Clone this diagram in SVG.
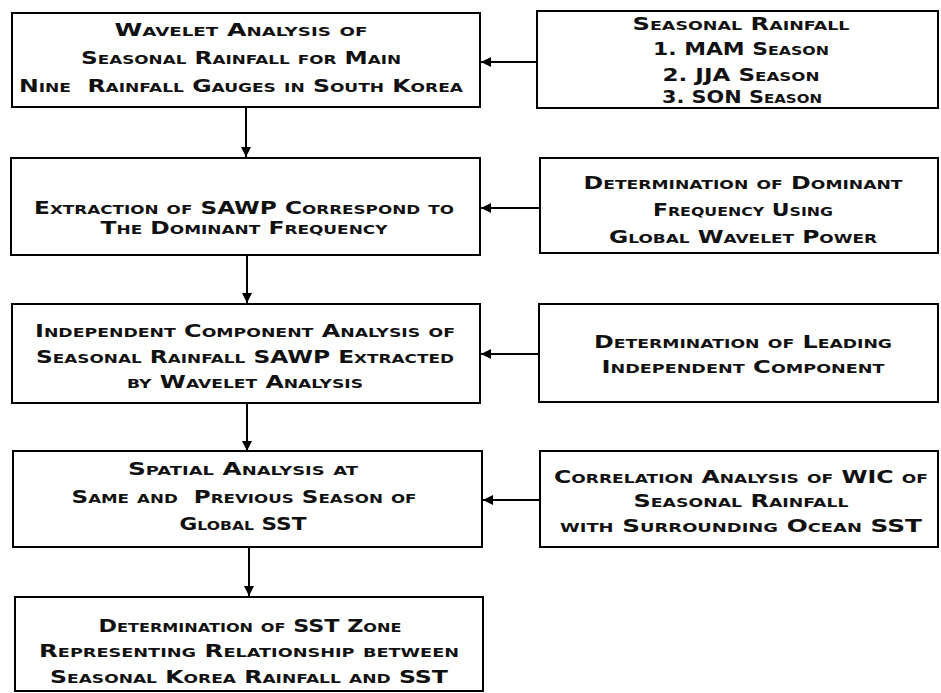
<svg xmlns="http://www.w3.org/2000/svg" width="941" height="693" viewBox="0 0 941 693">
<style>
.box{fill:#fff;stroke:#000;stroke-width:2}
.t{font-family:"DejaVu Sans","Liberation Sans",sans-serif;font-weight:bold;font-size:18px;font-variant:small-caps;text-anchor:middle;fill:#111;white-space:pre}
.c{stroke:#000;stroke-width:2;fill:none}
</style>
<defs>
<marker id="ah" viewBox="0 0 10 10" refX="10" refY="5" markerWidth="5" markerHeight="5" orient="auto" markerUnits="strokeWidth">
<path d="M0,0 L10,5 L0,10 z" fill="#000"/>
</marker>
</defs>
<rect width="941" height="693" fill="#fff"/>
<g id="connectors">
<line class="c" x1="246" y1="107" x2="246" y2="157" marker-end="url(#ah)"/>
<line class="c" x1="247" y1="255" x2="247" y2="303" marker-end="url(#ah)"/>
<line class="c" x1="247" y1="403" x2="247" y2="451" marker-end="url(#ah)"/>
<line class="c" x1="249" y1="547" x2="249" y2="596" marker-end="url(#ah)"/>
<line class="c" x1="537" y1="62" x2="481" y2="62" marker-end="url(#ah)"/>
<line class="c" x1="540" y1="208" x2="481" y2="208" marker-end="url(#ah)"/>
<line class="c" x1="539" y1="354" x2="481" y2="354" marker-end="url(#ah)"/>
<line class="c" x1="540" y1="500" x2="483" y2="500" marker-end="url(#ah)"/>
</g>
<g id="b1">
<rect class="box" x="12" y="13" width="468" height="94"/>
<text class="t" x="241" y="36" textLength="253" lengthAdjust="spacingAndGlyphs">Wavelet Analysis of</text>
<text class="t" x="241" y="64" textLength="320" lengthAdjust="spacingAndGlyphs">Seasonal Rainfall for Main</text>
<text class="t" x="241" y="92" textLength="444" lengthAdjust="spacingAndGlyphs">Nine  Rainfall Gauges in South Korea</text>
</g>
<g id="r1">
<rect class="box" x="537" y="11" width="401" height="97"/>
<text class="t" x="741" y="30" textLength="217" lengthAdjust="spacingAndGlyphs">Seasonal Rainfall</text>
<text class="t" x="741" y="55" textLength="176" lengthAdjust="spacingAndGlyphs">1. MAM Season</text>
<text class="t" x="741" y="81" textLength="157" lengthAdjust="spacingAndGlyphs">2. JJA Season</text>
<text class="t" x="742" y="103" textLength="160" lengthAdjust="spacingAndGlyphs">3. SON Season</text>
</g>
<g id="b2">
<rect class="box" x="11" y="158" width="469" height="97"/>
<text class="t" x="244" y="214" textLength="420" lengthAdjust="spacingAndGlyphs">Extraction of SAWP Correspond to</text>
<text class="t" x="244" y="234" textLength="287" lengthAdjust="spacingAndGlyphs">The Dominant Frequency</text>
</g>
<g id="r2">
<rect class="box" x="540" y="158" width="398" height="95"/>
<text class="t" x="743" y="189" textLength="319" lengthAdjust="spacingAndGlyphs">Determination of Dominant</text>
<text class="t" x="743" y="216" textLength="180" lengthAdjust="spacingAndGlyphs">Frequency Using</text>
<text class="t" x="743" y="243" textLength="268" lengthAdjust="spacingAndGlyphs">Global Wavelet Power</text>
</g>
<g id="b3">
<rect class="box" x="12" y="304" width="468" height="99"/>
<text class="t" x="245" y="337" textLength="420" lengthAdjust="spacingAndGlyphs">Independent Component Analysis of</text>
<text class="t" x="245" y="363" textLength="418" lengthAdjust="spacingAndGlyphs">Seasonal Rainfall SAWP Extracted</text>
<text class="t" x="245" y="388" textLength="236" lengthAdjust="spacingAndGlyphs">by Wavelet Analysis</text>
</g>
<g id="r3">
<rect class="box" x="539" y="304" width="399" height="98"/>
<text class="t" x="743" y="348" textLength="298" lengthAdjust="spacingAndGlyphs">Determination of Leading</text>
<text class="t" x="743" y="373" textLength="283" lengthAdjust="spacingAndGlyphs">Independent Component</text>
</g>
<g id="b4">
<rect class="box" x="13" y="451" width="469" height="96"/>
<text class="t" x="243" y="475" textLength="230" lengthAdjust="spacingAndGlyphs">Spatial Analysis at</text>
<text class="t" x="244" y="503" textLength="345" lengthAdjust="spacingAndGlyphs">Same and  Previous Season of</text>
<text class="t" x="243" y="530" textLength="127" lengthAdjust="spacingAndGlyphs">Global SST</text>
</g>
<g id="r4">
<rect class="box" x="540" y="451" width="398" height="96"/>
<text class="t" x="741" y="483" textLength="374" lengthAdjust="spacingAndGlyphs">Correlation Analysis of WIC of</text>
<text class="t" x="741" y="507" textLength="215" lengthAdjust="spacingAndGlyphs">Seasonal Rainfall</text>
<text class="t" x="741" y="532" textLength="362" lengthAdjust="spacingAndGlyphs">with Surrounding Ocean SST</text>
</g>
<g id="b5">
<rect class="box" x="15" y="597" width="468" height="94"/>
<text class="t" x="250" y="632" textLength="303" lengthAdjust="spacingAndGlyphs">Determination of SST Zone</text>
<text class="t" x="249" y="657" textLength="420" lengthAdjust="spacingAndGlyphs">Representing Relationship between</text>
<text class="t" x="249" y="683" textLength="398" lengthAdjust="spacingAndGlyphs">Seasonal Korea Rainfall and SST</text>
</g>
</svg>
